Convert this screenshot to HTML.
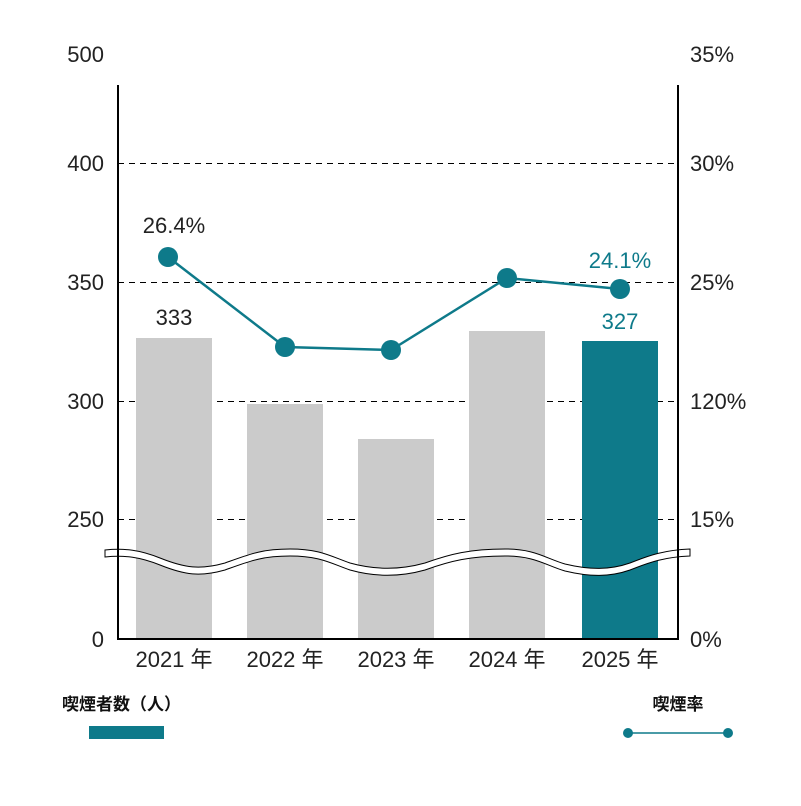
<!DOCTYPE html>
<html><head><meta charset="utf-8"><style>
body{margin:0;background:#fff}
svg text{font-family:"Liberation Sans","Noto Sans CJK JP",sans-serif}
</style></head><body>
<svg width="801" height="801" viewBox="0 0 801 801">
<g stroke="#000" stroke-width="1" stroke-dasharray="6,5">
<line x1="118" y1="163.5" x2="678" y2="163.5"/>
<line x1="118" y1="282.5" x2="678" y2="282.5"/>
<line x1="118" y1="401.5" x2="678" y2="401.5"/>
<line x1="118" y1="519.5" x2="678" y2="519.5"/>
</g>
<g fill="#cbcbcb">
<rect x="136" y="338" width="76" height="301"/>
<rect x="247" y="404" width="76" height="235"/>
<rect x="358" y="439" width="76" height="200"/>
<rect x="469" y="331" width="76" height="308"/>
</g>
<rect x="582" y="341" width="76" height="298" fill="#0e7a8a"/>
<path d="M105 550 C125 548,140 550,160 558 C185 568,200 570,225 563 C250 554,262 549,290 549 C320 549,330 556,350 563 C375 570,400 570,425 563 C450 554,470 549,505 549 C535 549,545 558,565 564 C590 570,610 570,630 563 C650 555,665 550,690 549 L690 556 C665 557,650 562,630 570 C610 577,590 577,565 571 C545 565,535 556,505 556 C470 556,450 561,425 570 C400 577,375 577,350 570 C330 563,320 556,290 556 C262 556,250 561,225 570 C200 577,185 575,160 565 C140 557,125 555,105 557Z" fill="#fff" stroke="#000" stroke-width="1"/>
<line x1="118" y1="85" x2="118" y2="639" stroke="#000" stroke-width="2"/>
<line x1="678" y1="85" x2="678" y2="639" stroke="#000" stroke-width="2"/>
<line x1="117" y1="639" x2="679" y2="639" stroke="#000" stroke-width="2"/>
<polyline points="168,257 285,347 391,350 507,278 620,289" fill="none" stroke="#0e7a8a" stroke-width="2.5"/>
<g fill="#0e7a8a">
<circle cx="168" cy="257" r="10"/><circle cx="285" cy="347" r="10"/><circle cx="391" cy="350" r="10"/><circle cx="507" cy="278" r="10"/><circle cx="620" cy="289" r="10"/>
</g>
<g font-size="22" fill="#222" text-anchor="end">
<text x="104" y="62">500</text><text x="104" y="171">400</text><text x="104" y="290">350</text><text x="104" y="409">300</text><text x="104" y="527">250</text><text x="104" y="647">0</text>
</g>
<g font-size="22" fill="#222">
<text x="690" y="62">35%</text><text x="690" y="171">30%</text><text x="690" y="290">25%</text><text x="690" y="409">120%</text><text x="690" y="527">15%</text><text x="690" y="647">0%</text>
</g>
<g font-size="22" fill="#222" text-anchor="middle">
<text x="174" y="667">2021 年</text><text x="285" y="667">2022 年</text><text x="396" y="667">2023 年</text><text x="507" y="667">2024 年</text><text x="620" y="667">2025 年</text>
<text x="174" y="325">333</text><text x="174" y="233">26.4%</text>
</g>
<g font-size="22" fill="#0e7a8a" text-anchor="middle">
<text x="620" y="329">327</text><text x="620" y="268">24.1%</text>
</g>
<text x="62" y="710" font-size="17" font-weight="bold" fill="#111">喫煙者数（人）</text>
<rect x="89" y="726" width="75" height="13" fill="#0e7a8a"/>
<text x="678" y="710" font-size="17" font-weight="bold" fill="#111" text-anchor="middle">喫煙率</text>
<line x1="628" y1="733" x2="728" y2="733" stroke="#0e7a8a" stroke-width="1.5"/>
<circle cx="628" cy="733" r="5" fill="#0e7a8a"/><circle cx="728" cy="733" r="5" fill="#0e7a8a"/>
</svg>
</body></html>
